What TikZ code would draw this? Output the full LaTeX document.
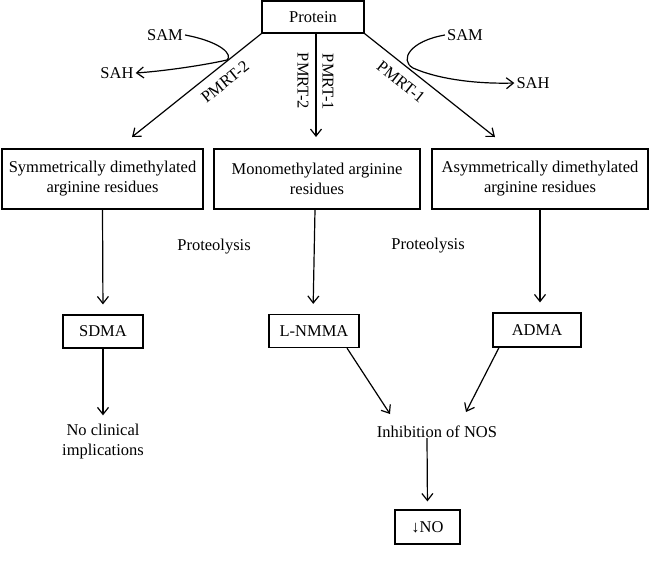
\documentclass[tikz,border=0pt]{standalone}
\usepackage{fontspec}
\setmainfont{Liberation Serif}
\usetikzlibrary{arrows.meta,calc}
\begin{document}
\begin{tikzpicture}[x=1pt,y=-1pt,
  every node/.style={font=\fontsize{16.5}{20}\selectfont},
  box/.style={draw,line width=1.2pt,inner sep=0pt,align=center},
  lbl/.style={inner sep=2pt},
  arr/.style={line width=1.2pt,-{Straight Barb[length=7pt,width=11pt,line width=1.2pt]}},
  ln/.style={line width=1.2pt}]
\useasboundingbox (0,0) rectangle (650,560);
\fill[white] (0,0) rectangle (650,560);
% top
\node[box,minimum width=102pt,minimum height=32pt] (protein) at (313,17) {Protein};
% middle row boxes
\node[box,minimum width=201pt,minimum height=60pt] (sym) at (102.5,179) {Symmetrically dimethylated\\arginine residues};
\node[box,minimum width=206pt,minimum height=60pt] (mono) at (317,179) {Monomethylated arginine\\residues};
\node[box,minimum width=216pt,minimum height=60pt] (asym) at (540,179) {Asymmetrically dimethylated\\arginine residues};
% small boxes
\node[box,minimum width=80pt,minimum height=33pt] (sdma) at (103,331.5) {SDMA};
\node[box,minimum width=90pt,minimum height=33pt] (lnmma) at (314,331) {L-NMMA};
\node[box,minimum width=88pt,minimum height=34pt] (adma) at (537,330) {ADMA};
\node[box,minimum width=65pt,minimum height=34pt] (no) at (427.5,527) {↓NO};
% texts
\node[lbl,align=center] (nci) at (103,442) {No clinical\\implications};
\node[lbl] (inh) at (437,432) {Inhibition of NOS};
\node[lbl] (prot1) at (214,247) {Proteolysis};
\node[lbl] (prot2) at (428,246) {Proteolysis};
\node[lbl] (samL) at (165,35) {SAM};
\node[lbl] (sahL) at (117,73) {SAH};
\node[lbl] (samR) at (465,35) {SAM};
\node[lbl] (sahR) at (533,83) {SAH};
\node[lbl,rotate=38.7] (p2L) at (225,82) {PMRT-2};
\node[lbl,rotate=-90] (p2M) at (303,81) {PMRT-2};
\node[lbl,rotate=-90] (p1M) at (328,82) {PMRT-1};
\node[lbl,rotate=-38.4] (p1R) at (401,82) {PMRT-1};
% arrow tip coordinates
\coordinate (tL) at (132,137);
\coordinate (tM) at (316,137);
\coordinate (tR) at (495,137);
\coordinate (tA) at (390,414);
\coordinate (tB) at (466,412);
% top arrows
\draw[arr] (protein.south west) -- (tL);
\draw[arr] ([xshift=3pt]protein.south) -- (tM);
\draw[arr] (protein.south east) -- (tR);
% SAM/SAH curves
\draw[arr] (samL.east) .. controls (222,42) and (233,55) .. (227,60)
  .. controls (205,65) and (165,71) .. (sahL.east);
\draw[arr] (samR.west) .. controls (410,41) and (399,60) .. (413,68)
  .. controls (440,80) and (480,84) .. (sahR.west);
% vertical arrows to small boxes
\draw[arr,shorten >=10pt] (sym.south) -- (sdma.north);
\draw[arr,shorten >=10pt] ([xshift=-2pt]mono.south) -- ([xshift=-1pt]lnmma.north);
\draw[arr,shorten >=10pt] (asym.south) -- ([xshift=3pt]adma.north);
% lower arrows
\draw[arr,shorten >=7pt] (sdma.south) -- (nci.north);
\draw[arr] ([xshift=33pt]lnmma.south) -- (tA);
\draw[arr] ([xshift=-38pt]adma.south) -- (tB);
\draw[arr,shorten >=8pt] ([xshift=-10pt,yshift=2pt]inh.south) -- (no.north);
\end{tikzpicture}
\end{document}
